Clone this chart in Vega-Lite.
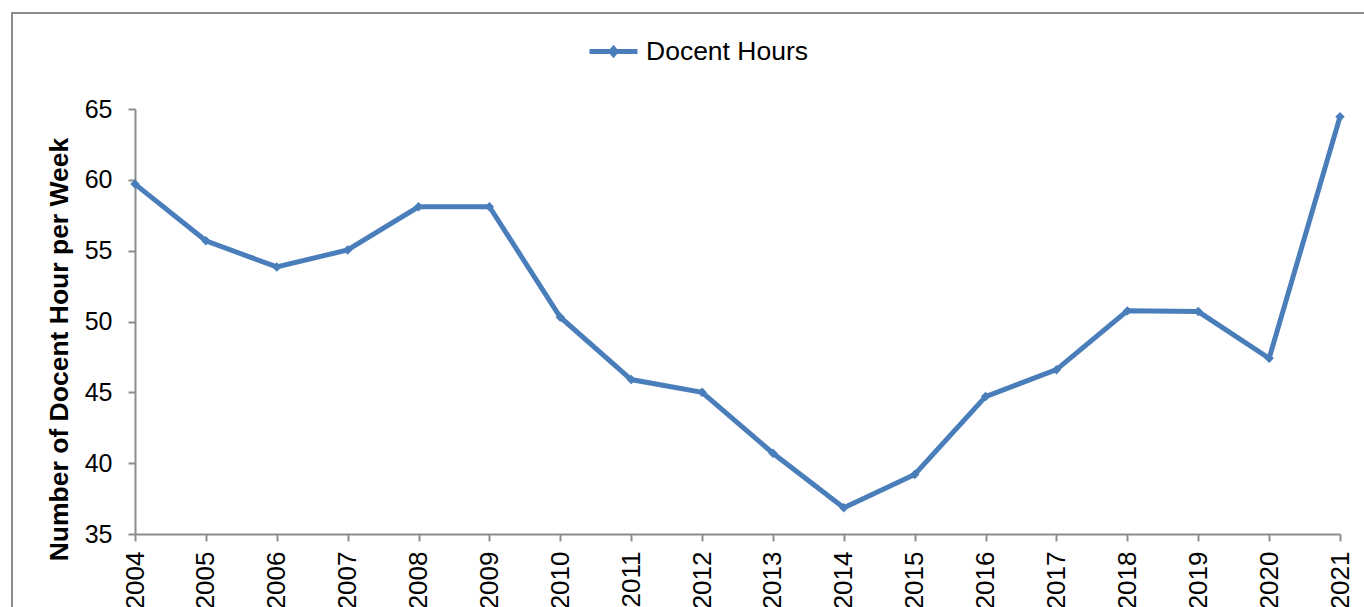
{
  "$schema": "https://vega.github.io/schema/vega-lite/v6.json",
  "width": 1364,
  "height": 600,
  "autosize": {"type": "none"},
  "padding": {"left": 12, "top": 13, "right": 0, "bottom": 0},
  "background": "white",
  "config": {
    "view": {"stroke": "#8c8c8c", "strokeWidth": 2},
    "font": "Liberation Sans"
  },
  "data": {
    "values": [
      {"year": 2004, "hours": 59.7, "series": "Docent Hours"},
      {"year": 2005, "hours": 55.7, "series": "Docent Hours"},
      {"year": 2006, "hours": 53.85, "series": "Docent Hours"},
      {"year": 2007, "hours": 55.05, "series": "Docent Hours"},
      {"year": 2008, "hours": 58.1, "series": "Docent Hours"},
      {"year": 2009, "hours": 58.1, "series": "Docent Hours"},
      {"year": 2010, "hours": 50.3, "series": "Docent Hours"},
      {"year": 2011, "hours": 45.9, "series": "Docent Hours"},
      {"year": 2012, "hours": 45.0, "series": "Docent Hours"},
      {"year": 2013, "hours": 40.7, "series": "Docent Hours"},
      {"year": 2014, "hours": 36.85, "series": "Docent Hours"},
      {"year": 2015, "hours": 39.2, "series": "Docent Hours"},
      {"year": 2016, "hours": 44.7, "series": "Docent Hours"},
      {"year": 2017, "hours": 46.6, "series": "Docent Hours"},
      {"year": 2018, "hours": 50.75, "series": "Docent Hours"},
      {"year": 2019, "hours": 50.7, "series": "Docent Hours"},
      {"year": 2020, "hours": 47.4, "series": "Docent Hours"},
      {"year": 2021, "hours": 64.45, "series": "Docent Hours"}
    ]
  },
  "mark": {
    "type": "line",
    "strokeWidth": 5,
    "strokeJoin": "miter",
    "point": {"shape": "diamond", "size": 90, "filled": true}
  },
  "encoding": {
    "x": {
      "field": "year",
      "type": "quantitative",
      "scale": {"domain": [2004, 2021], "range": [123, 1328], "nice": false, "zero": false},
      "axis": {
        "title": null,
        "values": [2004, 2005, 2006, 2007, 2008, 2009, 2010, 2011, 2012, 2013, 2014, 2015, 2016, 2017, 2018, 2019, 2020, 2021],
        "format": "d",
        "grid": false,
        "offset": -79,
        "labelAngle": -90,
        "labelAlign": "right",
        "labelBaseline": "middle",
        "labelFontSize": 26,
        "labelColor": "black",
        "labelPadding": 10,
        "labelFlush": false,
        "labelOverlap": false,
        "tickSize": 7,
        "tickWidth": 2,
        "tickColor": "#8c8c8c",
        "domainColor": "#8c8c8c",
        "domainWidth": 2
      }
    },
    "y": {
      "field": "hours",
      "type": "quantitative",
      "scale": {"domain": [35, 65], "range": [521, 96], "nice": false, "zero": false},
      "axis": {
        "title": "Number of Docent Hour per Week",
        "titleFontSize": 26.5,
        "titleFontWeight": "bold",
        "titleColor": "black",
        "titleAngle": -90,
        "titleAlign": "center",
        "titleBaseline": "alphabetic",
        "titleX": -68,
        "titleY": 336,
        "titleLimit": 1000,
        "values": [35, 40, 45, 50, 55, 60, 65],
        "grid": false,
        "offset": -123,
        "labelFontSize": 25,
        "labelColor": "black",
        "labelPadding": 16,
        "labelFlush": false,
        "tickSize": 7,
        "tickWidth": 2,
        "tickColor": "#8c8c8c",
        "domainColor": "#8c8c8c",
        "domainWidth": 2
      }
    },
    "color": {
      "field": "series",
      "type": "nominal",
      "scale": {"range": ["#4A7EBB"]},
      "legend": {
        "title": null,
        "orient": "none",
        "legendX": 575,
        "legendY": 12,
        "padding": 0,
        "symbolType": "M-1,0L1,0M-0.1,0L0,-0.12L0.1,0L0,0.12Z",
        "symbolSize": 2304,
        "symbolStrokeWidth": 5,
        "symbolFillColor": "#4A7EBB",
        "symbolStrokeColor": "#4A7EBB",
        "labelFontSize": 26.5,
        "labelLimit": 500,
        "labelColor": "black",
        "labelOffset": 6,
        "labelBaseline": "middle"
      }
    }
  }
}
